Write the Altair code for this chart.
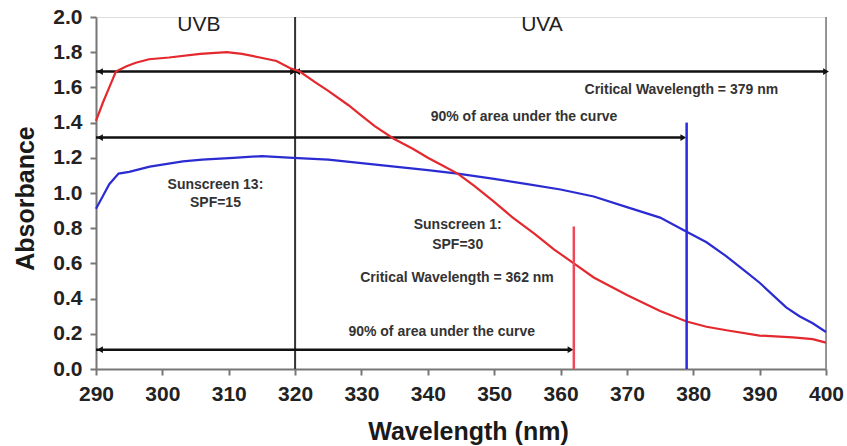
import altair as alt
import pandas as pd

# Absorbance spectra of the two sunscreens
wl_spf30 = [290, 291, 292, 293, 294.6, 296, 298, 301, 305.7, 309.7, 312, 314.7, 317.2, 319.2,
            320.7, 323, 325, 328, 330, 332, 334.8, 337.8, 340, 342, 344.5, 347, 350, 352.8,
            356, 359, 362, 365, 370, 375, 379, 382, 385, 390, 395, 398, 400]
abs_spf30 = [1.41, 1.51, 1.60, 1.69, 1.72, 1.74, 1.76, 1.77, 1.79, 1.80, 1.79, 1.77, 1.75, 1.71,
             1.69, 1.63, 1.58, 1.50, 1.44, 1.38, 1.31, 1.25, 1.20, 1.16, 1.11, 1.04, 0.95, 0.86,
             0.77, 0.68, 0.60, 0.52, 0.42, 0.33, 0.27, 0.24, 0.22, 0.19, 0.18, 0.17, 0.15]

wl_spf15 = [290, 291, 292, 293.4, 295, 298.1, 303.1, 306, 310.7, 315, 319.7, 325, 330, 335,
            340, 344.5, 350, 355, 360, 365, 370, 375, 379, 382, 385, 388, 390, 392, 394, 396,
            398, 400]
abs_spf15 = [0.91, 0.98, 1.05, 1.11, 1.12, 1.15, 1.18, 1.19, 1.20, 1.21, 1.20, 1.19, 1.17, 1.15,
             1.13, 1.11, 1.08, 1.05, 1.02, 0.98, 0.92, 0.86, 0.78, 0.72, 0.64, 0.55, 0.49, 0.42,
             0.35, 0.30, 0.26, 0.21]

# Critical wavelengths (90% of area under the curve)
crit_wl = [362, 379]
crit_top = [0.81, 1.40]
crit_color = ["#ee4a5a", "#2a2ade"]

# Horizontal arrows: full UV span and the two 90%-area spans
arrow_y = [1.69, 1.315, 0.11]
arrow_start = [290, 290, 290]
arrow_end = [400, 378.5, 361.5]

# UVB / UVA boundary
uvb_uva = 320

region_text = ["UVB", "UVA"]
region_x = [305.5, 357.2]
region_y = [1.955, 1.955]

note_text = ["Critical Wavelength = 379 nm", "90% of area under the curve",
             "Sunscreen 13:", "SPF=15", "Sunscreen 1:", "SPF=30",
             "Critical Wavelength = 362 nm", "90% of area under the curve"]
note_x = [378.2, 354.5, 308.0, 308.0, 344.5, 344.5, 344.4, 342.1]
note_y = [1.585, 1.43, 1.045, 0.943, 0.818, 0.705, 0.517, 0.21]

x_ticks = list(range(290, 401, 10))
y_ticks = [0.0, 0.2, 0.4, 0.6, 0.8, 1.0, 1.2, 1.4, 1.6, 1.8, 2.0]

FONT = "Liberation Sans"

spf30 = pd.DataFrame({"wl": wl_spf30, "a": abs_spf30})
spf15 = pd.DataFrame({"wl": wl_spf15, "a": abs_spf15})
crit = pd.DataFrame({"wl": crit_wl, "top": crit_top, "c": crit_color, "base": [0.0, 0.0]})
arrows = pd.DataFrame({"x1": arrow_start, "x2": arrow_end, "y": arrow_y})
heads_r = pd.DataFrame({"x": arrow_end + [uvb_uva - 0.3], "y": arrow_y + [arrow_y[0]]})
heads_l = pd.DataFrame({"x": [a + 0.6 for a in arrow_start] + [uvb_uva + 0.3],
                        "y": arrow_y + [arrow_y[0]]})
bounds = pd.DataFrame({"x": [uvb_uva, 400], "y1": [0.0, 0.0], "y2": [2.0, 2.0],
                       "c": ["#333333", "#777777"], "w": [2.0, 1.5]})
regions = pd.DataFrame({"x": region_x, "y": region_y, "t": region_text})
notes = pd.DataFrame({"x": note_x, "y": note_y, "t": note_text})

xs = alt.Scale(domain=[290, 400], nice=False, zero=False)
ys = alt.Scale(domain=[0, 2], nice=False)

x_axis = alt.Axis(values=x_ticks, format="d", title="Wavelength (nm)",
                  titleFontSize=25, titleFontWeight="bold", titleColor="#1a1a1a",
                  titleBaseline="alphabetic", titleY=70, titleX=372,
                  labelFontSize=21, labelFontWeight="bold", labelColor="#222222",
                  labelPadding=8, tickSize=6, tickWidth=2, tickColor="#777777",
                  domainColor="#777777", domainWidth=2, grid=False, labelFlush=False,
                  labelOverlap=False)
y_axis = alt.Axis(values=y_ticks, format=".1f", title="Absorbance",
                  titleFontSize=25, titleFontWeight="bold", titleColor="#1a1a1a",
                  titleAngle=270, titleBaseline="alphabetic", titleX=-63, titleY=181,
                  labelFontSize=21, labelFontWeight="bold", labelColor="#222222",
                  labelPadding=8, tickSize=6, tickWidth=2, tickColor="#777777",
                  domainColor="#777777", domainWidth=2, grid=False, labelFlush=False,
                  labelOverlap=False)


def X(field):
    return alt.X(field, type="quantitative", scale=xs, axis=x_axis)


def Y(field):
    return alt.Y(field, type="quantitative", scale=ys, axis=y_axis)


boundary_rules = alt.Chart(bounds).mark_rule().encode(
    x=X("x"), y=Y("y1"), y2="y2:Q",
    color=alt.Color("c:N", scale=None),
    strokeWidth=alt.StrokeWidth("w:Q", scale=None),
)

arrow_lines = alt.Chart(arrows).mark_rule(color="#111111", strokeWidth=2.5).encode(
    x=X("x1"), x2="x2:Q", y=Y("y")
)
arrow_r = alt.Chart(heads_r).mark_point(shape="triangle-right", filled=True, size=45,
                                        color="#111111", opacity=1).encode(x=X("x"), y=Y("y"))
arrow_l = alt.Chart(heads_l).mark_point(shape="triangle-left", filled=True, size=45,
                                        color="#111111", opacity=1).encode(x=X("x"), y=Y("y"))

line30 = alt.Chart(spf30).mark_line(color="#e3282e", strokeWidth=2.2).encode(
    x=X("wl"), y=Y("a")
)
line15 = alt.Chart(spf15).mark_line(color="#2b2bd2", strokeWidth=2.2).encode(
    x=X("wl"), y=Y("a")
)

crit_rules = alt.Chart(crit).mark_rule(strokeWidth=2.5).encode(
    x=X("wl"), y=Y("base"), y2="top:Q",
    color=alt.Color("c:N", scale=None),
)

region_labels = alt.Chart(regions).mark_text(font=FONT, fontSize=21, color="#222222",
                                             align="center", baseline="middle").encode(
    x=X("x"), y=Y("y"), text="t:N"
)
note_labels = alt.Chart(notes).mark_text(font=FONT, fontSize=14, fontWeight="bold",
                                         color="#333333", align="center",
                                         baseline="middle").encode(
    x=X("x"), y=Y("y"), text="t:N"
)

chart = alt.layer(
    boundary_rules, arrow_lines, arrow_r, arrow_l, line15, line30, crit_rules,
    region_labels, note_labels,
).properties(
    width=730, height=352,
    autosize=alt.AutoSizeParams(type="none"),
    padding={"left": 96, "top": 17, "right": 21, "bottom": 77},
    background="white",
).configure_view(stroke=None).configure(font=FONT).configure_axis(labelOverlap=False)

chart.save("out.html", embed_options={"renderer": "svg", "actions": False})
